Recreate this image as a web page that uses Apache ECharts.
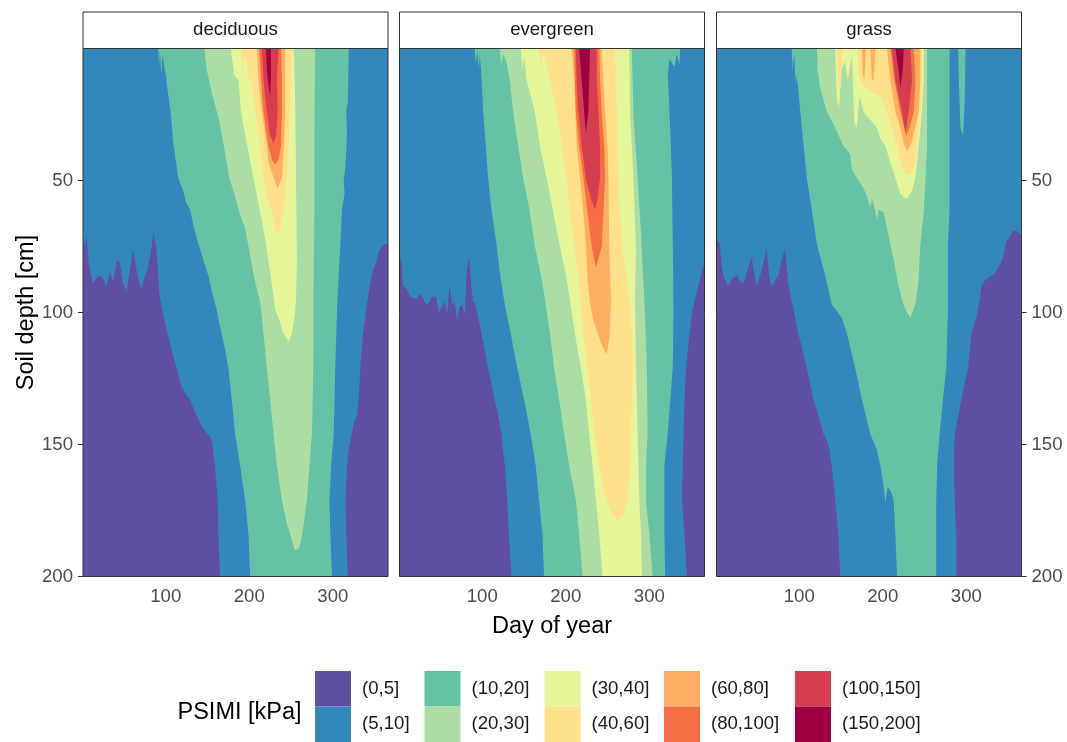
<!DOCTYPE html>
<html><head><meta charset="utf-8">
<script src="https://cdn.jsdelivr.net/npm/echarts@6/dist/echarts.min.js"></script>
<style>html,body{margin:0;padding:0;background:#fff;}#c{width:1067px;height:742px;}</style>
</head><body><div id="c"></div>
<script>
// ---------------- data ----------------
const facets = ['deciduous', 'evergreen', 'grass'];
const classes = ['(0,5]', '(5,10]', '(10,20]', '(20,30]', '(30,40]', '(40,60]', '(60,80]', '(80,100]', '(100,150]', '(150,200]'];
const dayTicks = [100, 200, 300];
const depthTicks = [50, 100, 150, 200];
const dayRange = [1, 366];
const depthRange = [0, 200];

// contour boundaries: [day, depth]; L = left edge top->bottom, R = right edge top->bottom
// deciduous
const dec_gt5_L = [[1,0],[1,71],[3,75],[5,71],[8,82],[13,89],[19,86],[25,87],[29,90],[33,85],[37,88],[42,80],[45,81],[48,88],[53,92],[57,84],[61,76],[64,82],[66,86],[71,91],[75,86],[78,84],[82,78],[85,70],[88,74],[90,80],[92,92],[94,96],[96,100],[98,102],[102,108],[107,114],[113,121],[117,126],[119,128],[124,131],[129,133],[137,139],[143,143],[150,146],[155,148],[159,158],[162,171],[163,184],[165,200]];
const dec_gt5_R = [[366,0],[366,74],[362,74],[359,75],[355,77],[351,82],[347,85],[344,90],[342,94],[340,99],[339,102],[336,108],[333,120],[331,133],[329,139],[325,142],[319,152],[317,158],[315,171],[316,184],[318,200]];
const dec_gt10_L = [[91,0],[92,7],[93,1],[95,10],[96,3],[97,4],[100,10],[104,20],[106,24],[109,36],[115,49],[121,54],[124,58],[129,61],[134,68],[139,74],[145,80],[151,86],[156,93],[161,99],[164,104],[167,108],[171,114],[175,121],[179,133],[183,146],[189,158],[195,171],[199,184],[201,200]];
const dec_gt10_R = [[319,0],[318,20],[316,24],[317,32],[315,45],[313,50],[314,55],[311,61],[309,74],[307,86],[305,99],[303,120],[301,146],[298,158],[296,171],[297,184],[299,200]];
const dec_gt20_L = [[146,0],[149,8],[156,18],[163,26],[169,36],[176,49],[183,56],[188,62],[195,68],[199,75],[206,87],[213,96],[217,108],[221,121],[225,133],[229,146],[233,158],[239,171],[245,180],[250,185],[254,190]];
const dec_gt20_R = [[279,0],[278,30],[278,60],[277,90],[277,110],[276,130],[275,146],[272,158],[269,171],[264,183],[260,189],[257,190]];
const dec_gt30_L = [[178,0],[182,10],[187,12],[190,24],[197,36],[205,49],[213,62],[220,74],[226,87],[231,99],[236,103],[241,108],[247,111]];
const dec_gt30_R = [[253,0],[255,20],[256,50],[257,80],[256,95],[254,102],[251,108],[247,111]];
const dec_gt40_L = [[190,0],[192,8],[195,3],[200,12],[203,12],[207,24],[213,37],[217,49],[221,56],[227,62],[231,68],[234,71]];
const dec_gt40_R = [[251,0],[250,12],[249,24],[247,37],[245,49],[241,62],[237,68],[234,71]];
const dec_gt60_L = [[209,0],[211,12],[215,24],[221,37],[223,43],[229,49],[234,53]];
const dec_gt60_R = [[243,0],[243,24],[241,40],[239,49],[234,53]];
const dec_gt80_L = [[212,0],[214,12],[217,24],[223,37],[227,42],[231,44]];
const dec_gt80_R = [[238,0],[239,12],[239,24],[238,37],[235,42],[231,44]];
const dec_gt100_L = [[215,0],[217,12],[221,24],[225,33],[229,36]];
const dec_gt100_R = [[235,0],[233,12],[234,24],[232,33],[229,36]];
const dec_gt150_L = [[220,0],[221,8],[223,14],[225,18]];
const dec_gt150_R = [[226,0],[226,10],[225,18]];

// evergreen
const eve_gt5_L = [[1,0],[1,79],[3,80],[5,90],[9,91],[14,94],[21,95],[27,93],[31,96],[35,97],[40,94],[45,94],[48,100],[51,98],[55,96],[58,100],[61,90],[64,97],[67,96],[70,103],[73,98],[76,97],[79,101],[81,86],[84,79],[87,90],[89,96],[91,96],[93,99],[95,101],[99,108],[103,114],[107,121],[111,127],[115,133],[119,139],[123,146],[125,152],[127,158],[130,171],[132,184],[135,200]];
const eve_gt5_R = [[366,0],[366,82],[364,83],[360,88],[357,92],[354,96],[351,100],[348,108],[344,121],[342,133],[341,146],[340,158],[339,171],[342,184],[345,200]];
const eve_gt10_L = [[91,0],[92,6],[94,1],[96,8],[97,2],[99,10],[101,23],[104,36],[107,49],[111,61],[117,74],[122,87],[127,97],[134,108],[142,121],[150,133],[158,146],[164,158],[168,171],[172,184],[174,200]];
const eve_gt10_R = [[337,0],[336,6],[333,2],[330,7],[324,4],[322,10],[324,23],[327,48],[328,74],[329,99],[328,121],[322,146],[318,158],[318,184],[319,200]];
const eve_gt20_L = [[121,0],[123,6],[125,2],[129,5],[133,12],[137,24],[143,37],[149,49],[157,62],[163,75],[171,87],[176,97],[181,108],[186,121],[192,133],[198,146],[204,158],[212,171],[216,184],[220,200]];
const eve_gt20_R = [[279,0],[281,25],[286,49],[290,70],[294,95],[297,120],[298,146],[296,158],[296,171],[300,184],[304,200]];
const eve_gt30_L = [[146,0],[148,8],[150,3],[153,12],[163,24],[169,37],[177,49],[185,62],[193,75],[201,87],[207,100],[212,110],[218,121],[224,133],[228,146],[232,158],[236,171],[240,184],[244,200]];
const eve_gt30_R = [[276,0],[277,25],[281,49],[284,75],[283,95],[284,120],[286,146],[287,158],[288,171],[290,184],[291,200]];
const eve_gt40_L = [[168,0],[170,6],[173,2],[176,5],[181,12],[189,24],[195,37],[201,49],[205,62],[210,75],[215,87],[219,100],[221,108],[226,121],[230,133],[234,146],[240,158],[248,171],[255,176],[262,179]];
const eve_gt40_R = [[259,0],[261,24],[263,49],[265,62],[268,75],[273,87],[277,97],[279,108],[280,121],[279,133],[278,146],[277,158],[274,171],[268,177],[262,179]];
const eve_gt60_L = [[207,0],[210,12],[213,37],[217,49],[221,62],[224,75],[226,87],[229,97],[233,103],[238,108],[244,113],[249,116]];
const eve_gt60_R = [[243,0],[245,12],[247,24],[250,37],[251,49],[252,75],[254,95],[253,105],[252,110],[249,116]];
const eve_gt80_L = [[210,0],[211,12],[212,24],[216,37],[221,49],[226,62],[231,75],[236,83]];
const eve_gt80_R = [[240,0],[241,12],[243,24],[246,37],[247,49],[245,62],[243,75],[236,83]];
const eve_gt100_L = [[212,0],[213,12],[215,24],[219,37],[224,49],[230,57],[235,61]];
const eve_gt100_R = [[237,0],[237,12],[239,24],[241,37],[241,49],[238,57],[235,61]];
const eve_gt150_L = [[216,0],[219,12],[222,24],[224,32]];
const eve_gt150_R = [[229,0],[228,12],[227,24],[224,32]];

// grass
const gra_gt5_L = [[1,0],[1,72],[3,73],[5,74],[7,82],[9,86],[12,88],[15,90],[20,87],[25,86],[29,88],[33,89],[38,84],[43,79],[46,85],[49,90],[55,84],[61,76],[64,86],[67,90],[71,88],[75,86],[79,80],[83,76],[85,83],[87,89],[90,95],[92,97],[99,108],[109,121],[117,133],[123,139],[129,146],[135,150],[139,158],[143,171],[147,184],[149,200]];
const gra_gt5_R = [[366,0],[366,71],[363,70],[360,69],[356,69],[352,71],[348,73],[344,79],[340,82],[336,84],[332,86],[328,86.5],[322,88],[318,90],[316,95],[312,102],[306,108],[302,121],[298,127],[294,133],[290,140],[286,146],[285,158],[286,171],[288,184],[288,200]];
const gra_gt10_L = [[91,0],[92,8],[94,2],[96,14],[97,10],[99,16],[101,23],[105,36],[109,49],[115,61],[121,74],[131,86],[139,97],[151,102],[157,108],[167,121],[175,133],[185,146],[193,152],[197,158],[201,166],[203,172],[206,166],[210,168],[213,171],[215,184],[217,200]];
const gra_gt10_R = [[299,0],[298,20],[296,33],[293,30],[291,12],[290,0],[280,0],[280,36],[280,60],[278,74],[278,99],[276,121],[272,133],[268,146],[265,158],[264,171],[264,200]];
const gra_gt20_L = [[121,0],[122,8],[125,15],[133,24],[143,30],[153,37],[161,40],[163,46],[169,49],[177,53],[181,56],[185,60],[187,57],[189,59],[193,65],[195,61],[201,62],[205,68],[209,74],[213,80],[217,87],[219,90],[223,95],[227,99],[233,102]];
const gra_gt20_R = [[253,0],[253,37],[251,50],[249,62],[245,74],[243,87],[239,97],[233,102]];
const gra_gt30_L = [[143,0],[145,20],[148,22],[150,8],[155,5],[158,12],[163,3],[166,28],[169,30],[172,18],[177,24],[185,27],[193,30],[197,34],[203,37],[209,43],[215,49],[221,55],[228,57]];
const gra_gt30_R = [[249,0],[249,12],[247,24],[243,37],[239,49],[235,54],[228,57]];
const gra_gt40_L = [[145,0],[147,14],[150,15],[152,0],[169,0],[171,10],[176,14],[190,17],[197,18],[205,24],[211,30],[217,37],[221,43],[226,47],[230,48]];
const gra_gt40_R = [[247,0],[247,12],[245,24],[241,37],[239,43],[235,47],[230,48]];
const gra_gt60_L = [[175,0],[176,10],[178,12],[180,0],[185,0],[187,12],[189,12],[191,0],[205,0],[209,12],[215,24],[221,30],[225,36],[229,39]];
const gra_gt60_R = [[245,0],[245,12],[243,24],[239,30],[234,36],[229,39]];
const gra_gt80_L = [[209,0],[214,12],[221,24],[228,33]];
const gra_gt80_R = [[237,0],[239,12],[237,24],[232,30],[228,33]];
const gra_gt100_L = [[211,0],[215,12],[223,24],[227,32]];
const gra_gt100_R = [[233,0],[235,12],[231,24],[227,32]];
const gra_gt150_L = [[215,0],[219,8],[221,15]];
const gra_gt150_R = [[225,0],[224,8],[221,15]];

// ---------------- style / layout ----------------
const palette = ['#5E4FA2','#3288BD','#66C2A5','#ABDDA4','#E6F598','#FEE08B','#FDAE61','#F46D43','#D53E4F','#9E0142'];
const FONT = "'Liberation Sans', Arial, Helvetica, sans-serif";
const gridLeft = [83, 399.5, 716.5];
const gridTop = 48.5, gridW = 305, gridH = 528;
const legendLeft = [315, 424.5, 544.5, 664, 795];

const regions = [
  [[dec_gt5_L,dec_gt5_R],[dec_gt10_L,dec_gt10_R],[dec_gt20_L,dec_gt20_R],[dec_gt30_L,dec_gt30_R],[dec_gt40_L,dec_gt40_R],[dec_gt60_L,dec_gt60_R],[dec_gt80_L,dec_gt80_R],[dec_gt100_L,dec_gt100_R],[dec_gt150_L,dec_gt150_R]],
  [[eve_gt5_L,eve_gt5_R],[eve_gt10_L,eve_gt10_R],[eve_gt20_L,eve_gt20_R],[eve_gt30_L,eve_gt30_R],[eve_gt40_L,eve_gt40_R],[eve_gt60_L,eve_gt60_R],[eve_gt80_L,eve_gt80_R],[eve_gt100_L,eve_gt100_R],[eve_gt150_L,eve_gt150_R]],
  [[gra_gt5_L,gra_gt5_R],[gra_gt10_L,gra_gt10_R],[gra_gt20_L,gra_gt20_R],[gra_gt30_L,gra_gt30_R],[gra_gt40_L,gra_gt40_R],[gra_gt60_L,gra_gt60_R],[gra_gt80_L,gra_gt80_R],[gra_gt100_L,gra_gt100_R],[gra_gt150_L,gra_gt150_R]]
];
const fullRing = [[dayRange[0],depthRange[0]],[dayRange[1],depthRange[0]],[dayRange[1],depthRange[1]],[dayRange[0],depthRange[1]]];

const grids = [], xAxes = [], yAxes = [], series = [];
for (let p = 0; p < 3; p++) {
  grids.push({left: gridLeft[p], top: gridTop, width: gridW, height: gridH, show: true,
    backgroundColor: 'transparent', borderColor: '#333333', borderWidth: 1, z: 10});
  xAxes.push({gridIndex: p, type: 'value', min: dayRange[0], max: dayRange[1],
    axisLine: {show: false}, splitLine: {show: false},
    axisTick: {show: true, length: 5, lineStyle: {color: '#333333'}, customValues: dayTicks},
    axisLabel: {customValues: dayTicks, margin: 11, fontSize: 18.6, color: '#4D4D4D', fontFamily: FONT},
    name: p === 1 ? 'Day of year' : '', nameLocation: 'middle', nameGap: 38,
    nameTextStyle: {fontSize: 23.5, color: '#000', fontFamily: FONT}});
  yAxes.push({gridIndex: p, type: 'value', min: depthRange[0], max: depthRange[1], inverse: true,
    position: p === 2 ? 'right' : 'left',
    axisLine: {show: false}, splitLine: {show: false},
    axisTick: {show: p !== 1, length: 5, lineStyle: {color: '#333333'}, customValues: depthTicks},
    axisLabel: {show: p !== 1, customValues: depthTicks, margin: 10, fontSize: 18.6, color: '#4D4D4D', fontFamily: FONT},
    name: p === 0 ? 'Soil depth [cm]' : '', nameLocation: 'middle', nameGap: 44, nameRotate: 90,
    nameTextStyle: {fontSize: 23.5, color: '#000', fontFamily: FONT}});
  for (let k = 0; k < classes.length; k++) {
    let ring;
    if (k === 0) ring = fullRing;
    else {
      const pair = regions[p][k - 1];
      ring = pair[0].concat(pair[1].slice().reverse());
    }
    const level = k;
    series.push({
      type: 'custom', name: classes[k], xAxisIndex: p, yAxisIndex: p,
      coordinateSystem: 'cartesian2d', clip: true, z: 2, silent: true, animation: false,
      itemStyle: {color: palette[k]},
      encode: {x: 0, y: 1},
      data: ring,
      renderItem: function (params, api) {
        if (params.dataIndex !== 0) return null;
        const pts = ring.map(function (pt) { return api.coord(pt); });
        return {type: 'polygon', z2: level, shape: {points: pts}, style: {fill: palette[level]}};
      }
    });
  }
}

const legends = legendLeft.map(function (lx, c) {
  return {data: [classes[2 * c], classes[2 * c + 1]], orient: 'vertical', left: lx, top: 671, height: 100,
    padding: 0, itemWidth: 36, itemHeight: 35.5, itemGap: 0, icon: 'rect', selectedMode: false,
    itemStyle: {borderWidth: 0},
    textStyle: {fontSize: 18.6, color: '#1A1A1A', fontFamily: FONT, padding: [0, 0, 0, 6]}};
});

const graphics = facets.map(function (f, i) {
  return {type: 'group', x: gridLeft[i], y: 12, children: [
    {type: 'rect', shape: {x: 0, y: 0, width: gridW, height: gridTop - 12}, style: {fill: '#fff', stroke: '#333333', lineWidth: 1}},
    {type: 'text', style: {text: f, x: gridW / 2, y: (gridTop - 12) / 2, textAlign: 'center', textVerticalAlign: 'middle', fontSize: 18.6, fill: '#1A1A1A', fontFamily: FONT}}
  ]};
});
graphics.push({type: 'text', x: 177.5, y: 713, style: {text: 'PSIMI [kPa]', textAlign: 'left', textVerticalAlign: 'middle', fontSize: 23.5, fill: '#000', fontFamily: FONT}});

const chart = echarts.init(document.getElementById('c'), null, {renderer: 'canvas'});
chart.setOption({
  animation: false,
  backgroundColor: '#fff',
  grid: grids, xAxis: xAxes, yAxis: yAxes, series: series,
  legend: legends, graphic: graphics
});
</script></body></html>
